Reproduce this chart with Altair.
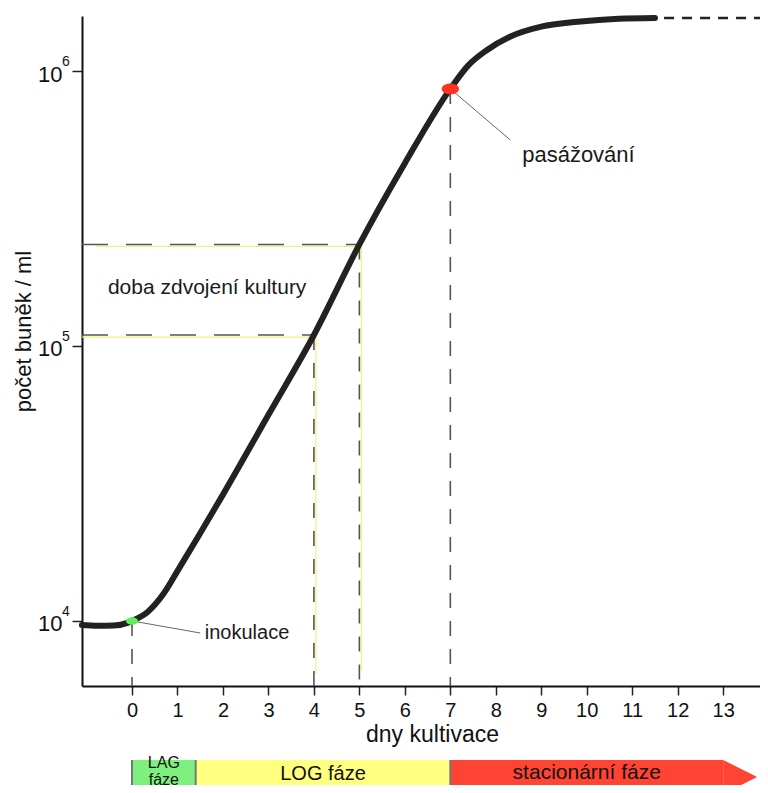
import altair as alt
import pandas as pd

# ---- data ----
curve_days = [-1.1, -0.75, -0.4, -0.1, 0.0, 0.35, 0.7, 1.05, 1.45, 2.0, 3.0, 4.0, 5.0, 6.0, 7.0, 7.4, 7.8, 8.3, 9.0, 9.8, 10.7, 11.5]
curve_cells = [9660, 9600, 9620, 9840, 10000, 10800, 12600, 15700, 20200, 28800, 56200, 109600, 234000, 462000, 861000, 1050000, 1190000, 1330000, 1450000, 1510000, 1550000, 1560000]

x_ticks = list(range(0, 14))
y_ticks = [1e4, 1e5, 1e6]
y_exponents = ["4", "5", "6"]

x_min, x_max = -1.1, 13.81
y_min, y_max = 5800, 1585000

# dashed guides
h_guide_values = [109600, 234000]
h_guide_end_days = [4, 5]
v_guide_days = [0, 4, 5, 7]
v_guide_tops = [10000, 109600, 234000, 861000]
plateau_days = [11.7, 13.81]
plateau_value = 1560000

# markers
inoc_day, inoc_cells = 0.0, 10000
pass_day, pass_cells = 7.0, 861000

# annotations
ann_text = ["inokulace", "pasážování", "doba zdvojení kultury"]
ann_day = [1.6, 8.58, -0.53]
ann_cells = [9040, 495000, 163000]
ann_line_start_day = [0.0, 7.0]
ann_line_start_cells = [10000, 861000]
ann_line_end_day = [1.5, 8.32]
ann_line_end_cells = [9040, 561000]

# phases
phase_names = ["LAG\nfáze", "LOG fáze", "stacionární fáze"]
phase_start = [0.0, 1.4, 7.0]
phase_end = [1.4, 7.0, 13.0]
phase_colors = ["#7ef07e", "#ffff80", "#ff4433"]

FONT = "Liberation Sans"
xs = alt.Scale(domain=[x_min, x_max], nice=False, zero=False)
ys = alt.Scale(type="log", domain=[y_min, y_max], nice=False)

X_AX = alt.Axis(
    values=x_ticks, title="dny kultivace", grid=False, domainColor="#111",
    domainWidth=2, tickColor="#222", tickWidth=1.5, tickSize=9,
    labelFont=FONT, labelFontSize=20, labelColor="#111", labelPadding=5,
    titleFont=FONT, titleFontSize=23, titleFontWeight="normal", titleColor="#111",
    titlePadding=3, titleX=350, labelFlush=False)
Y_AX = alt.Axis(
    values=y_ticks, labelExpr="'10'", title="počet buněk / ml", grid=False,
    domainColor="#111", domainWidth=2, tickColor="#222", tickWidth=1.5, tickSize=10,
    labelFont=FONT, labelFontSize=22, labelColor="#111", labelPadding=10, labelOffset=3,
    titleFont=FONT, titleFontSize=22, titleFontWeight="normal", titleColor="#111",
    titleAngle=270, titleX=-59, titleY=315, titleBaseline="middle", titleAlign="center",
    labelFlush=False)


def X(field):
    return alt.X(field, type="quantitative", scale=xs, axis=X_AX)


def Y(field):
    return alt.Y(field, type="quantitative", scale=ys, axis=Y_AX)


curve_df = pd.DataFrame({"day": curve_days, "cells": curve_cells})
curve = alt.Chart(curve_df).mark_line(
    color="#222222", strokeWidth=6, strokeCap="round", interpolate="monotone"
).encode(x=X("day"), y=Y("cells"))

# exponents of y labels
exp_df = pd.DataFrame({"cells": y_ticks, "exp": y_exponents})
exps = alt.Chart(exp_df).mark_text(
    font=FONT, fontSize=14, align="left", baseline="middle", dx=-20, dy=-9, color="#111"
).encode(x=alt.value(0), y=Y("cells"), text="exp:N")

# yellow thin lines
yel_h = pd.DataFrame({"x": [x_min, -0.8], "x2": h_guide_end_days, "y": h_guide_values})
yellow_h = alt.Chart(yel_h).mark_rule(color="#f4f27a", strokeWidth=1.2, yOffset=2).encode(
    x=X("x"), x2="x2:Q", y=Y("y"))
yel_v = pd.DataFrame({"x": h_guide_end_days, "y": h_guide_values, "y2": [6400, 6600]})
yellow_v = alt.Chart(yel_v).mark_rule(color="#f4f27a", strokeWidth=1.2, xOffset=2).encode(
    x=X("x"), y=Y("y"), y2="y2:Q")

# dashed guides
hg = pd.DataFrame({"x": [x_min, x_min], "x2": h_guide_end_days, "y": h_guide_values})
dash_h = alt.Chart(hg).mark_rule(color="#555", strokeWidth=1.6, strokeDash=[26, 18]).encode(
    x=X("x"), x2="x2:Q", y=Y("y"))
vg = pd.DataFrame({"x": v_guide_days, "y": v_guide_tops, "y2": [y_min] * len(v_guide_days)})
dash_v = alt.Chart(vg).mark_rule(color="#555", strokeWidth=1.6, strokeDash=[15, 13]).encode(
    x=X("x"), y=Y("y"), y2="y2:Q")
pl = pd.DataFrame({"x": [plateau_days[0]], "x2": [plateau_days[1]], "y": [plateau_value]})
plateau = alt.Chart(pl).mark_rule(color="#222", strokeWidth=2.5, strokeDash=[10, 8]).encode(
    x=X("x"), x2="x2:Q", y=Y("y"))

# annotation lines
al = pd.DataFrame({"x": ann_line_start_day, "y": ann_line_start_cells,
                   "x2": ann_line_end_day, "y2": ann_line_end_cells})
ann_lines = alt.Chart(al).mark_rule(color="#666", strokeWidth=1).encode(
    x=X("x"), y=Y("y"), x2="x2:Q", y2="y2:Q")

ellipse = "M-1,0A1,0.62,0,1,1,1,0A1,0.62,0,1,1,-1,0Z"
green = alt.Chart(pd.DataFrame({"x": [inoc_day], "y": [inoc_cells]})).mark_point(
    shape=ellipse, size=144, filled=True, color="#5fef5f", opacity=1, strokeWidth=0).encode(
    x=X("x"), y=Y("y"))
red = alt.Chart(pd.DataFrame({"x": [pass_day], "y": [pass_cells]})).mark_point(
    shape=ellipse, size=300, filled=True, color="#ff3322", opacity=1, strokeWidth=0).encode(
    x=X("x"), y=Y("y"))

at = pd.DataFrame({"x": ann_day, "y": ann_cells, "t": ann_text})
ann_inok = alt.Chart(at.iloc[[0]]).mark_text(
    font=FONT, fontSize=20, align="left", baseline="middle", color="#1a1a1a").encode(
    x=X("x"), y=Y("y"), text="t:N")
ann_pas = alt.Chart(at.iloc[[1]]).mark_text(
    font=FONT, fontSize=22, align="left", baseline="middle", color="#1a1a1a").encode(
    x=X("x"), y=Y("y"), text="t:N")
ann_doba = alt.Chart(at.iloc[[2]]).mark_text(
    font=FONT, fontSize=21, align="left", baseline="middle", color="#1a1a1a").encode(
    x=X("x"), y=Y("y"), text="t:N")

# phase bar
ph = pd.DataFrame({"name": phase_names, "start": phase_start, "end": phase_end})
ph["mid"] = (ph["start"] + ph["end"]) / 2
cscale = alt.Scale(domain=phase_names, range=phase_colors)
bars = alt.Chart(ph).mark_rect(clip=False).encode(
    x=X("start"), x2="end:Q",
    y=alt.value(744), y2=alt.value(800),
    color=alt.Color("name:N", scale=cscale, legend=None))
arrow = alt.Chart(ph.iloc[[2]]).mark_point(
    shape="M0,-1L2,0L0,1Z", size=1156, filled=True, opacity=1, strokeWidth=0, clip=False).encode(
    x=X("end"), y=alt.value(761),
    color=alt.Color("name:N", scale=cscale, legend=None))
seps = alt.Chart(ph).mark_rule(color="#777", strokeWidth=2).encode(
    x=X("start"), y=alt.value(744), y2=alt.value(800))
lag_txt = alt.Chart(ph.iloc[[0]]).mark_text(
    font=FONT, fontSize=16, lineBreak="\n", lineHeight=17, baseline="middle", color="#111").encode(
    x=X("mid"), y=alt.value(747), text="name:N")
log_txt = alt.Chart(ph.iloc[[1]]).mark_text(
    font=FONT, fontSize=20, baseline="middle", color="#111").encode(
    x=X("mid"), y=alt.value(758), text="name:N")
stat_txt = alt.Chart(ph.iloc[[2]]).mark_text(
    font=FONT, fontSize=21, baseline="middle", color="#111").encode(
    x=X("mid"), y=alt.value(757), text="name:N")

chart = alt.layer(
    yellow_h, yellow_v, dash_h, dash_v, plateau, ann_lines, curve, green, red,
    ann_inok, ann_pas, ann_doba, exps,
    bars, arrow, seps, lag_txt, log_txt, stat_txt
).properties(
    width=678, height=670,
    autosize=alt.AutoSizeParams(type="none"),
    padding={"left": 74, "top": 8, "right": 0, "bottom": 99},
    background="white",
).configure_view(stroke=None)

chart.save("out.html", embed_options={"renderer": "svg", "actions": False})
